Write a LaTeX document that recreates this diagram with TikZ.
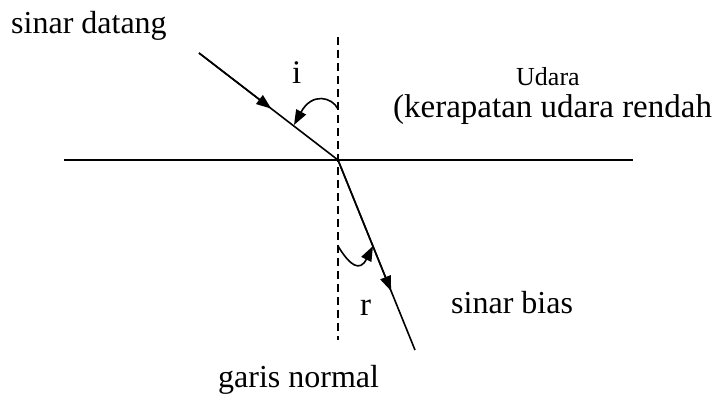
\documentclass[tikz,border=0pt]{standalone}
\usepackage{fontspec}
\setmainfont{Liberation Serif}
\usetikzlibrary{arrows.meta,calc}
\begin{document}
\begin{tikzpicture}[x=1pt,y=-1pt,
  ray/.style={line width=1.6pt},
  tipped/.style={line width=1.6pt,-{Triangle[length=15pt,width=11pt]}},
  normalline/.style={line width=1.5pt,dash pattern=on 8pt off 5pt},
  lbl/.style={inner sep=0pt,anchor=base west,font=\fontsize{32}{36}\selectfont},
  lblbig/.style={inner sep=0pt,anchor=base west,font=\fontsize{33}{38}\selectfont},
  lblsmall/.style={inner sep=0pt,anchor=base west,text depth=0pt,font=\fontsize{26}{30}\selectfont}]
\useasboundingbox (0,0) rectangle (713,397);
% geometry
\coordinate (L) at (64,160);
\coordinate (R) at (633,160);
\coordinate (NT) at (338,37);
\coordinate (NB) at (338,340);
\coordinate (S) at (199,53);
\coordinate (O) at (338,160);
\coordinate (E) at (415,350);
\coordinate (ia) at (338,109);
\coordinate (ib) at (294,125);
\coordinate (ra) at (338,246);
\coordinate (rb) at (373,246);
% lines
\draw[ray] (L) -- (R);
\draw[normalline] (NT) -- (NB);
\draw[ray] (S) -- (O) -- (E);
\draw[tipped] (S) -- ($(S)!0.52!(O)$);
\draw[tipped] (O) -- ($(O)!0.69!(E)$);
% angle arcs
\draw[tipped] (ia) .. controls (332,97) and (312,92) .. (ib);
\draw[tipped] (ra) .. controls (350,266) and (360,272) .. (rb);
% labels
\node[lbl] (t1) at (11,33) {sinar datang};
\node[lblbig] (ti) at (292,83) {i};
\node[lblsmall] (tu) at (516,85) {Udara};
\node[lblbig,text height=23pt] (tk) at (393,117) {(kerapatan udara rendah};
\node[lblbig] (tr) at (360,315) {r};
\node[lbl] (tb) at (451,313) {sinar bias};
\node[lbl] (tg) at (218,387) {garis normal};
\end{tikzpicture}
\end{document}
